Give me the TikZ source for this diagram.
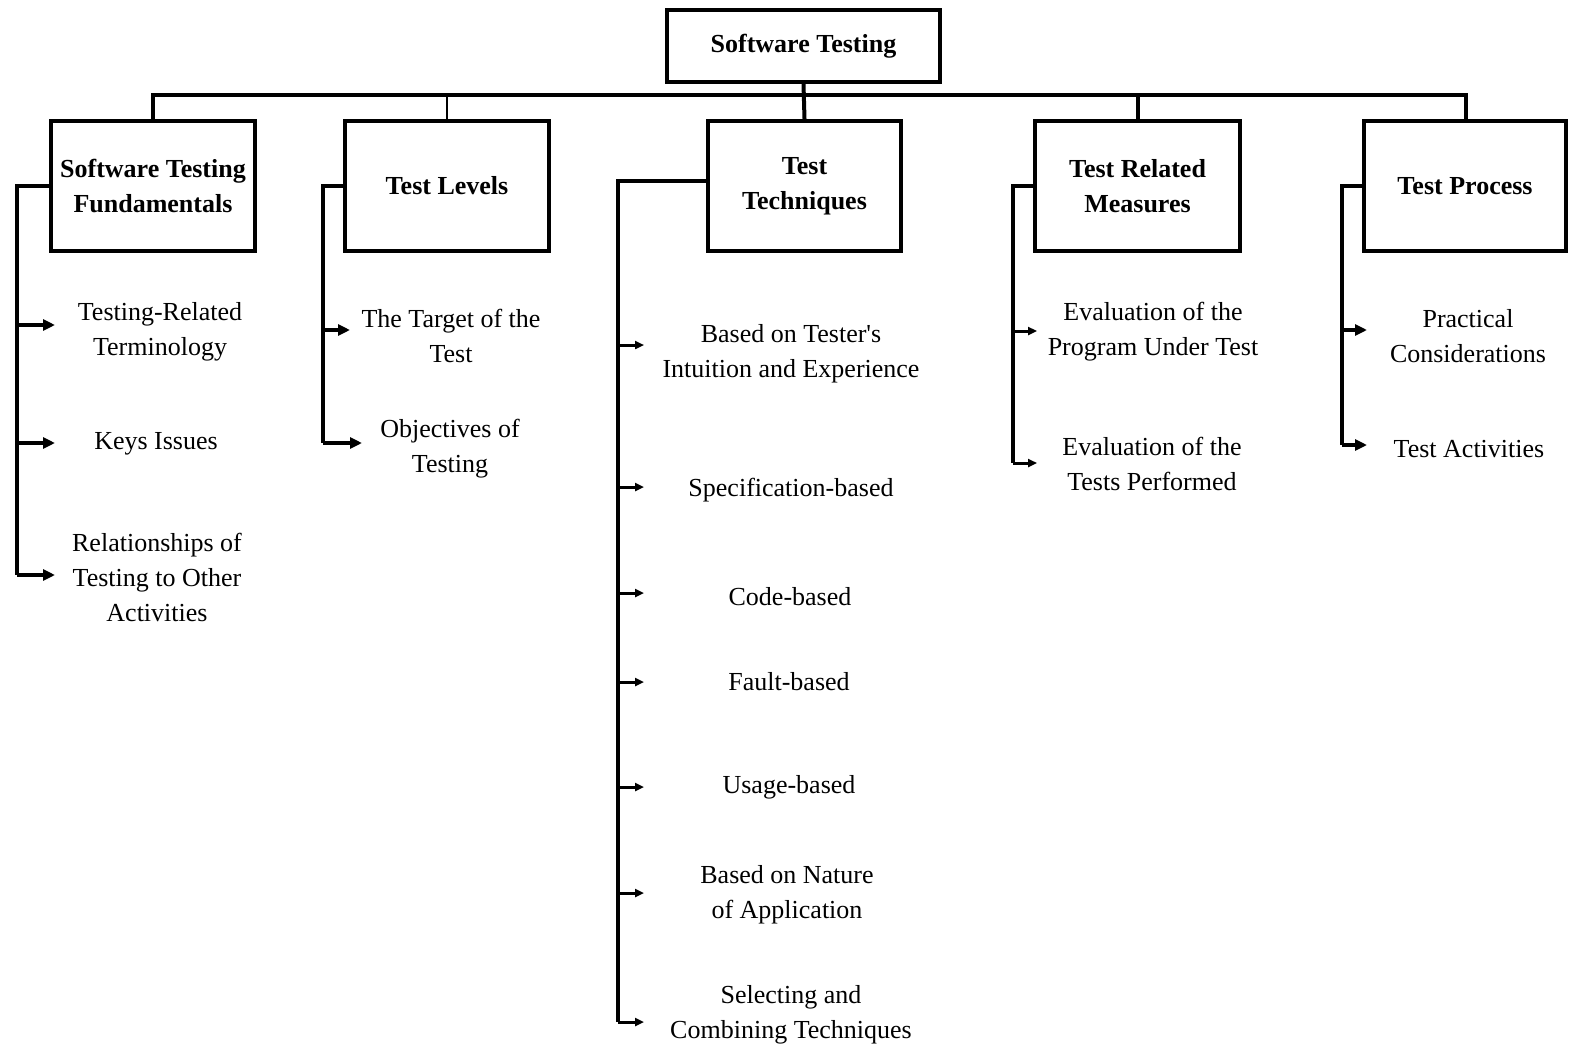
\documentclass[tikz,border=0pt]{standalone}
\usepackage{fontspec}
\setmainfont{Liberation Serif}
\usetikzlibrary{arrows.meta}
\begin{document}
\begin{tikzpicture}[x=1pt,y=-1pt,
  box/.style={draw,line width=4pt,inner sep=0pt,align=center,font=\fontsize{26}{35}\selectfont\bfseries},
  leaf/.style={align=center,inner sep=0pt,yshift=-4pt,font=\fontsize{26}{35}\selectfont},
  bus/.style={line width=4pt},
  trunk/.style={line width=3.5pt},
  tip/.style={line width=3.5pt,-{Triangle[length=12pt,width=11pt]}},
  smalltip/.style={line width=3pt,-{Triangle[length=9pt,width=8pt]}}]
\useasboundingbox (0,0) rectangle (1571,1046);
\fill[white] (0,0) rectangle (1571,1046);

% top level
\node[box,minimum width=273pt,minimum height=72pt] (root) at (803.5,46) {Software Testing};

% second level boxes
\node[box,minimum width=204pt,minimum height=130pt] (b1) at (153,186) {Software Testing\\Fundamentals};
\node[box,minimum width=204pt,minimum height=130pt] (b2) at (447,186) {Test Levels};
\node[box,minimum width=193pt,minimum height=130pt] (b3) at (804.5,186) {Test\\Techniques};
\node[box,minimum width=205pt,minimum height=130pt] (b4) at (1137.5,186) {Test Related\\Measures};
\node[box,minimum width=202pt,minimum height=130pt] (b5) at (1465,186) {Test Process};

% bus
\coordinate (busL) at (153,95);
\coordinate (busR) at (1466,95);
\draw[bus] (busL |- b1.north) -- (busL) -- (busR) -- (busR |- b5.north);
\draw[bus] (root.south) -- (b3.north);
\draw[line width=1.5pt] (b2.north) -- (b2.north |- busL);
\draw[bus] (b4.north) -- (b4.north |- busL);

% leaves: column 1
\node[leaf] (l11) at (160,328) {Testing-Related\\Terminology};
\node[leaf] (l12) at (156,440) {Keys Issues};
\node[leaf] (l13) at (157,573) {Relationships of\\Testing to Other\\Activities};
\coordinate (t1) at (17,186);
\draw[trunk] (b1.west) -- (t1) -- (17,575);
\draw[tip] (17,325) -- (55,325);
\draw[tip] (17,443) -- (55,443);
\draw[tip] (17,575) -- (55,575);

% column 2
\node[leaf] (l21) at (451,332) {The Target of the\\Test};
\node[leaf] (l22) at (450,445) {Objectives of\\Testing};
\coordinate (t2) at (323,186);
\draw[trunk] (b2.west) -- (t2) -- (323,443);
\draw[tip] (323,330) -- (350,330);
\draw[tip] (323,443) -- (362,443);

% column 3
\node[leaf] (l31) at (791,350) {Based on Tester\textquotesingle s\\Intuition and Experience};
\node[leaf] (l32) at (791,486) {Specification-based};
\node[leaf] (l33) at (790,593) {Code-based};
\node[leaf] (l34) at (789,678) {Fault-based};
\node[leaf] (l35) at (789,783) {Usage-based};
\node[leaf] (l36) at (787,891) {Based on Nature\\of Application};
\node[leaf] (l37) at (791,1011) {Selecting and\\Combining Techniques};
\coordinate (t3) at (618,181);
\draw[trunk] (b3.west |- t3) -- (t3) -- (618,1022);
\foreach \y in {345,487,593,682,787,893,1022}
  \draw[smalltip] (618,\y) -- (644,\y);

% column 4
\node[leaf] (l41) at (1153,328) {Evaluation of the\\Program Under Test};
\node[leaf] (l42) at (1152,460) {Evaluation of the\\Tests Performed};
\coordinate (t4) at (1013,186);
\draw[trunk] (b4.west) -- (t4) -- (1013,463);
\draw[smalltip] (1013,331) -- (1037,331);
\draw[smalltip] (1013,463) -- (1037,463);

% column 5
\node[leaf] (l51) at (1468,332) {Practical\\Considerations};
\node[leaf] (l52) at (1469,445) {Test Activities};
\coordinate (t5) at (1342,186);
\draw[trunk] (b5.west) -- (t5) -- (1342,445);
\draw[tip] (1342,330) -- (1367,330);
\draw[tip] (1342,445) -- (1367,445);
\end{tikzpicture}
\end{document}
